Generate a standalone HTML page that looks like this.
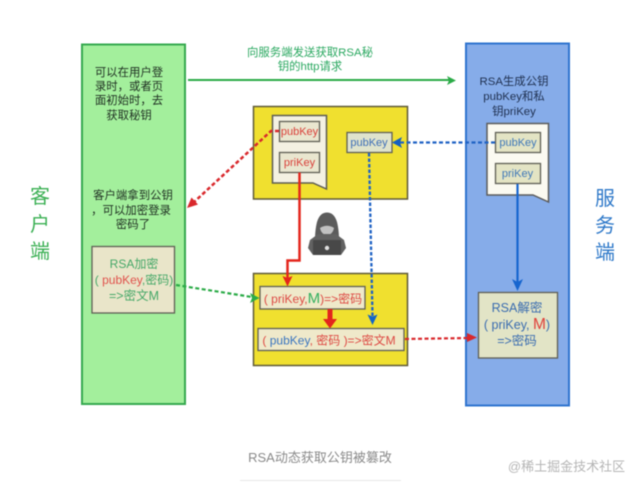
<!DOCTYPE html>
<html><head><meta charset="utf-8"><style>
html,body{margin:0;padding:0;background:#fff;width:641px;height:489px;overflow:hidden}
svg{display:block;filter:blur(.5px)}
text{font-family:"Liberation Sans","Noto Sans CJK SC",sans-serif;text-anchor:middle}
</style></head><body>
<svg width="641" height="489" viewBox="0 0 641 489" xmlns="http://www.w3.org/2000/svg">
<rect x="82" y="44.5" width="103" height="359.5" fill="#a3ef9c" stroke="#36a94f" stroke-width="2"/>
<rect x="466" y="43.5" width="103" height="362" fill="#86ace9" stroke="#2f74cf" stroke-width="2"/>
<rect x="253.5" y="106.5" width="154" height="92.5" fill="#f0e02f" stroke="#5f5a38" stroke-width="1.5"/>
<rect x="253.5" y="273.5" width="154" height="92" fill="#f0e02f" stroke="#5f5a38" stroke-width="1.5"/>

<g font-size="11.4" fill="#1f2f22">
<text x="129" y="76">可以在用户登</text><text x="129" y="90">录时，或者页</text><text x="129" y="104">面初始时，去</text><text x="129" y="119">获取秘钥</text>
<text x="133" y="199">客户端拿到公钥</text><text x="131" y="214">，可以加密登录</text><text x="133" y="228">密码了</text>
</g>
<g font-size="20" fill="#3bb054"><text x="40" y="203">客</text><text x="40" y="231">户</text><text x="40" y="258">端</text></g>
<g font-size="20" fill="#2f79c9"><text x="605" y="205">服</text><text x="605" y="232">务</text><text x="605" y="259">端</text></g>
<g font-size="11.4" fill="#2aa860"><text x="310" y="56">向服务端发送获取RSA秘</text><text x="310" y="70">钥的http请求</text></g>
<g font-size="11.4" fill="#1f3050"><text x="514" y="85">RSA生成公钥</text><text x="514" y="100">pubKey和私</text><text x="514" y="115">钥priKey</text></g>

<!-- green arrow -->
<path d="M188 80H450" stroke="#2bab47" stroke-width="2" fill="none"/>
<path d="M456 80.500L447 76L449 80.500L447 85Z" fill="#2bab47"/>

<!-- notes -->
<path d="M272.500 115.500H326.500V189L313 183H272.500Z" fill="#f4f1e2" stroke="#5c5c52" stroke-width="1.500"/>
<path d="M487 123.500H548.500V202L533 195H487Z" fill="#fbfaf1" stroke="#5c5c5c" stroke-width="1.500"/>

<!-- small boxes -->
<g fill="#e9e6cf" stroke="#5f5f55" stroke-width="1.300">
<rect x="279.500" y="121.500" width="40" height="20"/>
<rect x="279.500" y="152.500" width="40" height="20"/>
<rect x="347" y="132.500" width="45" height="20" fill="#dfe3cc"/>
<rect x="495.500" y="132.500" width="45" height="20" fill="#e3e4c4"/>
<rect x="495.500" y="163.500" width="45" height="20" fill="#e3e4c4"/>
<rect x="478.500" y="292.500" width="79" height="65.500" fill="#e2e4c6"/>
<rect x="92" y="246.500" width="82.500" height="66.500" fill="#e9e5c9"/>
<rect x="260" y="286.500" width="105" height="22.500" fill="#efe9ca"/>
<rect x="258" y="328.500" width="146" height="22" fill="#efe9ca"/>
</g>

<g font-size="11">
<text x="299.500" y="135" fill="#d9403a">pubKey</text>
<text x="299.500" y="166" fill="#d9403a">priKey</text>
<text x="369" y="146" fill="#3f6fb8">pubKey</text>
<text x="518" y="146" fill="#3f78b8">pubKey</text>
<text x="517.500" y="177" fill="#3f78b8">priKey</text>
</g>

<!-- RSA encrypt -->
<g font-size="12" fill="#45a868">
<text x="134" y="268">RSA加密</text>
<text x="134" y="284"><tspan>( </tspan><tspan fill="#e0524c">pubKey</tspan><tspan>,密码)</tspan></text>
<text x="134" y="300" font-size="12.500">=&gt;密文M</text>
</g>

<!-- RSA decrypt -->
<g font-size="12.500" fill="#3a6cb0">
<text x="517" y="312">RSA解密</text>
<text x="517" y="329"><tspan>( priKey, </tspan><tspan fill="#e0403a" font-size="15.500">M</tspan><tspan>)</tspan></text>
<text x="517" y="345">=&gt;密码</text>
</g>

<text x="313" y="303" font-size="12" fill="#dd4a44">( priKey,<tspan fill="#35b060" font-size="15">M</tspan>)=&gt;密码</text>
<text x="329" y="344.500" font-size="12" fill="#dd4a44">( <tspan fill="#3a75c0">pubKey</tspan>,  密码  )=&gt;密文M</text>

<!-- red dashed to client -->
<path d="M279 131H271L193 203" stroke="#d9282c" stroke-width="2.500" stroke-dasharray="4 2.500" fill="none"/>
<path d="M187 208L191.500 197.500L198 204.500Z" fill="#d9282c"/>

<!-- blue dashed -->
<path d="M495 142.500H399" stroke="#1f62c4" stroke-width="2.200" stroke-dasharray="4 2.500" fill="none"/>
<path d="M392 142.500L402 137L400 142.500L402 148Z" fill="#1560c0"/>

<!-- blue solid -->
<path d="M517.500 184V282" stroke="#1665cf" stroke-width="2.200" fill="none"/>
<path d="M517.500 291L512 279L517.500 282L523 279Z" fill="#1665cf"/>

<!-- red solid -->
<path d="M299.500 172.500V260.500H287.500V278" stroke="#e3261c" stroke-width="2.500" fill="none"/>
<path d="M287.500 286.500L282.500 276L287.500 278L292.500 276Z" fill="#e3261c"/>

<!-- thick red -->
<path d="M330 309V320" stroke="#e3261c" stroke-width="5" fill="none"/>
<path d="M330 328.500L323 319H337Z" fill="#e3261c"/>

<!-- blue dotted -->
<path d="M369 153L372.500 316" stroke="#1f62c4" stroke-width="2.300" stroke-dasharray="3.500 2" fill="none"/>
<path d="M372.500 325L367.500 314.500L372.500 316.500L377.500 314.500Z" fill="#1265c8"/>

<!-- green dashed -->
<path d="M176 285L252 297" stroke="#2bab47" stroke-width="2.200" stroke-dasharray="4 2.500" fill="none"/>
<path d="M259.500 298L250 303L252 298L250 293Z" fill="#2bab47"/>

<!-- red dashed to server -->
<path d="M405 339L469 338" stroke="#d9282c" stroke-width="2.200" stroke-dasharray="4 2.500" fill="none"/>
<path d="M477 337.500L467 333V342Z" fill="#d9282c"/>

<!-- hacker -->
<g>
<path d="M315 240C315 232 316 226 317 222C319 215 323 212.500 327 212.500C331 212.500 335 215 337 222C338 226 339 232 339 240Z" fill="#5c5c5c"/>
<path d="M320 228C324 225 330 225 334 228C333 233 330 235 327 235C324 235 321 233 320 228Z" fill="#c2c2c2"/>
<path d="M318 234L310 240L308 248L313 255H341L346 248L344 240L336 234Z" fill="#626262"/>
<rect x="313" y="240" width="28" height="15" rx="1" fill="#484848"/>
<circle cx="327" cy="248" r="2.200" fill="#e0e0e0"/>
</g>

<text x="320" y="462" font-size="13" fill="#8a8a8a">RSA动态获取公钥被篡改</text>
<path d="M240 480.500H401" stroke="#e8e8e8" stroke-width="1"/>
<text x="566.500" y="471" font-size="13" fill="#b5b5b5">@稀土掘金技术社区</text>
</svg>
</body></html>
